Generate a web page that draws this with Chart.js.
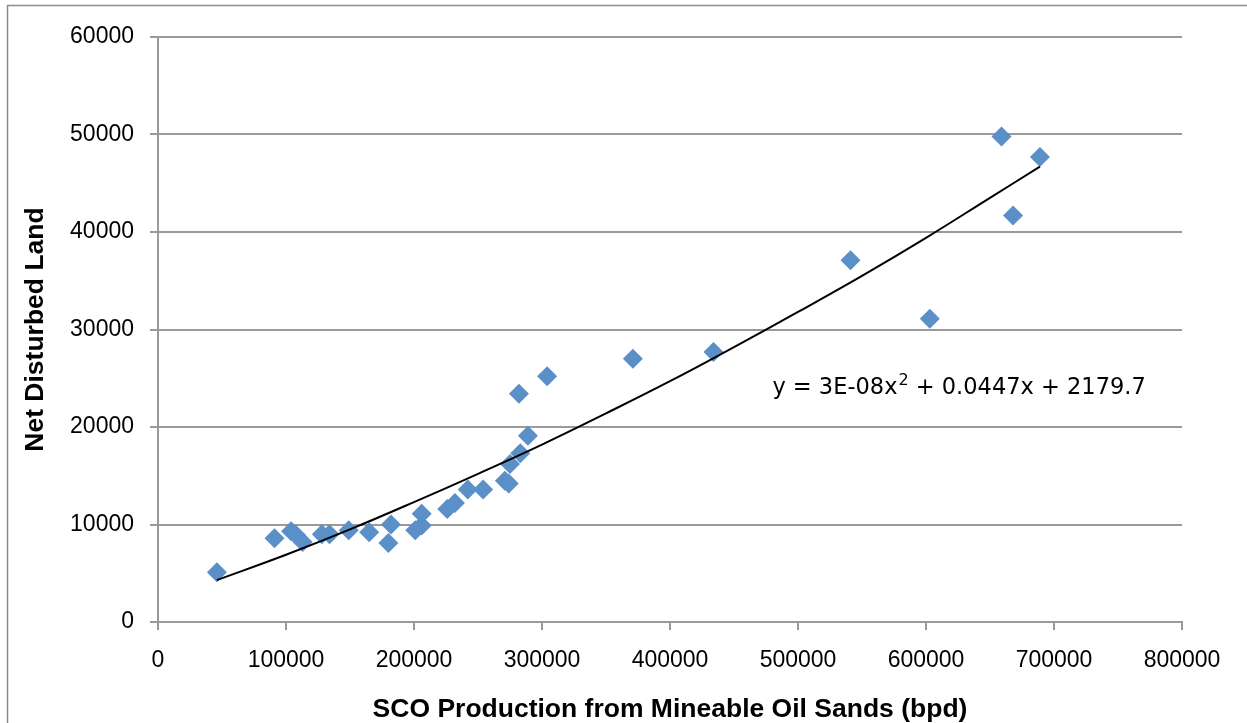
<!DOCTYPE html>
<html>
<head>
<meta charset="utf-8">
<script src="https://cdn.jsdelivr.net/npm/chart.js@4/dist/chart.umd.min.js"></script>
<style>
	html, body { margin: 0; padding: 0; background: #fff; }
	#wrap { position: relative; width: 1247px; height: 723px; }
</style>
</head>
<body>
<div id="wrap"><canvas id="land_chart" width="1247" height="723"></canvas></div>
<script>
// SCO production (bpd) vs net disturbed land
const production = [46000, 91000, 104000, 108000, 113000, 128000, 134000, 149000, 165000, 180000, 182000, 201000, 206000, 206000, 226000, 232000, 242000, 254000, 271000, 274000, 275000, 282000, 283000, 289000, 304000, 371000, 434000, 541000, 603000, 659000, 668000, 689000];
const disturbed = [5100, 8600, 9300, 8900, 8200, 9000, 9000, 9400, 9200, 8100, 10000, 9400, 9900, 11100, 11600, 12200, 13600, 13600, 14500, 14200, 16200, 23400, 17300, 19100, 25200, 27000, 27700, 37100, 31100, 49800, 41700, 47700];

// points picked along the drawn trend line
const trendX = [46000, 100000, 150000, 200000, 250000, 300000, 350000, 400000, 450000, 500000, 550000, 600000, 650000, 689000];
const trendY = [4300, 6900, 9500, 12300, 15200, 18200, 21400, 24700, 28200, 31800, 35500, 39400, 43500, 46700];

const equation = ['y = 3E-08x', '2', ' + 0.0447x + 2179.7'];
const equationAt = { x: 480000, y: 24000 };

const xTitle = 'SCO Production from Mineable Oil Sands (bpd)';
const yTitle = 'Net Disturbed Land';

const frame = {
	id: 'frame',
	beforeDraw(chart) {
		const ctx = chart.ctx;
		ctx.save();
		ctx.fillStyle = '#fff';
		ctx.fillRect(0, 0, chart.width, chart.height);
		ctx.strokeStyle = '#8c8c8c';
		ctx.lineWidth = 1.5;
		ctx.beginPath();
		ctx.moveTo(7.5, chart.height);
		ctx.lineTo(7.5, 5.5);
		ctx.lineTo(chart.width, 5.5);
		ctx.stroke();
		ctx.restore();
	}
};

const trendLabel = {
	id: 'trendLabel',
	afterDatasetsDraw(chart) {
		const ctx = chart.ctx;
		const x = chart.scales.x.getPixelForValue(equationAt.x);
		const y = chart.scales.y.getPixelForValue(equationAt.y);
		ctx.save();
		ctx.fillStyle = '#000';
		ctx.textBaseline = 'middle';
		ctx.font = '22.5px "DejaVu Sans"';
		ctx.fillText(equation[0], x, y);
		let w = ctx.measureText(equation[0]).width;
		ctx.font = '16px "DejaVu Sans"';
		ctx.fillText(equation[1], x + w + 1, y - 7);
		w += ctx.measureText(equation[1]).width + 1;
		ctx.font = '22.5px "DejaVu Sans"';
		ctx.fillText(equation[2], x + w, y);
		ctx.restore();
	}
};

const gray = '#9a9a9a';
const plain = v => String(v);

window.onload = function() {
	Chart.defaults.font.family = '"Liberation Sans", Arial, sans-serif';
	Chart.defaults.color = '#000';

	new Chart(document.getElementById('land_chart'), {
		type: 'scatter',
		data: {
			datasets: [{
				type: 'line',
				label: 'trend',
				order: 0,
				data: trendX.map((x, i) => ({ x, y: trendY[i] })),
				borderColor: '#000',
				borderWidth: 2,
				pointRadius: 0,
				tension: 0.4,
				fill: false
			}, {
				label: 'land',
				order: 1,
				data: production.map((x, i) => ({ x, y: disturbed[i] })),
				pointStyle: 'rectRot',
				pointRadius: 10,
				pointBorderWidth: 0,
				backgroundColor: '#5a8fc8',
				borderColor: '#5a8fc8'
			}]
		},
		options: {
			responsive: false,
			animation: false,
			events: [],
			layout: { padding: { top: 37, right: 65, left: 0, bottom: 0 } },
			plugins: { legend: { display: false }, tooltip: { enabled: false } },
			scales: {
				x: {
					type: 'linear',
					min: 0,
					max: 800000,
					afterFit: scale => { scale.height = 101; },
					ticks: { stepSize: 100000, padding: 17, font: { size: 23 }, color: '#000', maxRotation: 0, callback: plain },
					grid: { drawOnChartArea: false, drawTicks: true, tickLength: 8, color: gray, lineWidth: 2 },
					border: { color: gray, width: 2 },
					title: { display: true, text: xTitle, font: { size: 26.5, weight: 'bold', lineHeight: 1 }, color: '#000', padding: { top: 0, bottom: 0 } }
				},
				y: {
					min: 0,
					max: 60000,
					afterFit: scale => { scale.width = 158; },
					ticks: { stepSize: 10000, padding: 16, font: { size: 23 }, color: '#000', callback: plain },
					grid: { drawTicks: true, tickLength: 8, color: gray, lineWidth: 2 },
					border: { color: gray, width: 2 },
					title: { display: true, text: yTitle, font: { size: 26.5, weight: 'bold', lineHeight: 1 }, color: '#000', padding: { top: 22, bottom: 0 } }
				}
			}
		},
		plugins: [frame, trendLabel]
	});
};
</script>
</body>
</html>
